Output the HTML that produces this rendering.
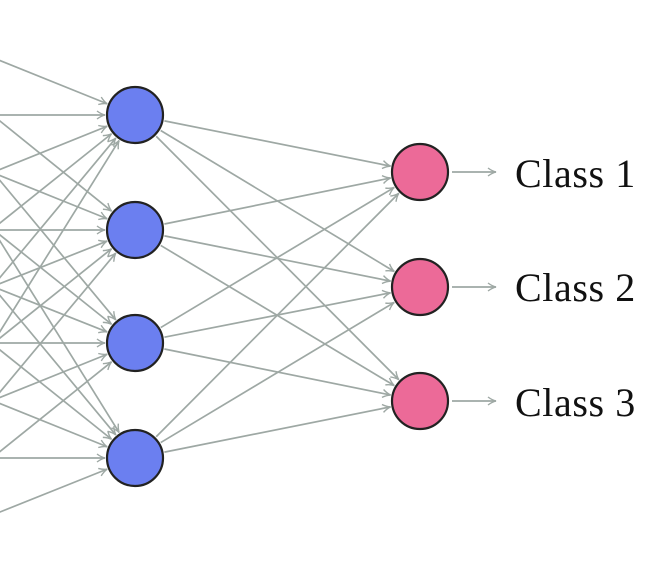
<!DOCTYPE html>
<html><head><meta charset="utf-8">
<style>
html,body{margin:0;padding:0;background:#fff;}
svg{display:block;}
text{font-family:"Liberation Serif",serif;font-size:40px;letter-spacing:0.6px;fill:#111;}
</style></head>
<body>
<svg id="s" width="672" height="574" viewBox="0 0 672 574" xmlns="http://www.w3.org/2000/svg">
<defs>
<marker id="a" viewBox="0 0 10 10" refX="9" refY="5" markerWidth="10" markerHeight="10" markerUnits="userSpaceOnUse" orient="auto">
<path d="M1,1 Q5,4 9,5 Q5,6 1,9" fill="none" stroke="#9ea8a4" stroke-width="1.4"/>
</marker>
</defs>
<g id="lines" stroke="#9ea8a4" stroke-width="1.7" fill="none"></g>
<g id="nodes"></g>
<line x1="452" y1="172" x2="496" y2="172" stroke="#9ea8a4" stroke-width="1.7" marker-end="url(#a)"/>
<line x1="452" y1="287" x2="496" y2="287" stroke="#9ea8a4" stroke-width="1.7" marker-end="url(#a)"/>
<line x1="452" y1="401" x2="496" y2="401" stroke="#9ea8a4" stroke-width="1.7" marker-end="url(#a)"/>
<text x="515" y="187">Class 1</text>
<text x="515" y="301">Class 2</text>
<text x="515" y="416">Class 3</text>
</svg>
<script>
var NS="http://www.w3.org/2000/svg";
var lines=document.getElementById("lines"),nodes=document.getElementById("nodes");
var R=28;
var inp=[0,115,230,343,458,572].map(function(y){return [-150,y];});
var hid=[115,230,343,458].map(function(y){return [135,y];});
var out=[172,287,401].map(function(y){return [420,y];});
function conn(A,B){A.forEach(function(p){B.forEach(function(q){
 var dx=q[0]-p[0],dy=q[1]-p[1],L=Math.sqrt(dx*dx+dy*dy),ux=dx/L,uy=dy/L;
 var l=document.createElementNS(NS,"line");
 l.setAttribute("x1",p[0]+ux*(R+2));l.setAttribute("y1",p[1]+uy*(R+2));
 l.setAttribute("x2",q[0]-ux*(R+2));l.setAttribute("y2",q[1]-uy*(R+2));
 l.setAttribute("marker-end","url(#a)");lines.appendChild(l);});});}
conn(inp,hid);conn(hid,out);
function circ(P,f){P.forEach(function(p){var c=document.createElementNS(NS,"circle");
 c.setAttribute("cx",p[0]);c.setAttribute("cy",p[1]);c.setAttribute("r",R);
 c.setAttribute("fill",f);c.setAttribute("stroke","#222");c.setAttribute("stroke-width","2.2");nodes.appendChild(c);});}
circ(hid,"#6b7ff0");circ(out,"#ec6a98");
</script>
</body></html>
